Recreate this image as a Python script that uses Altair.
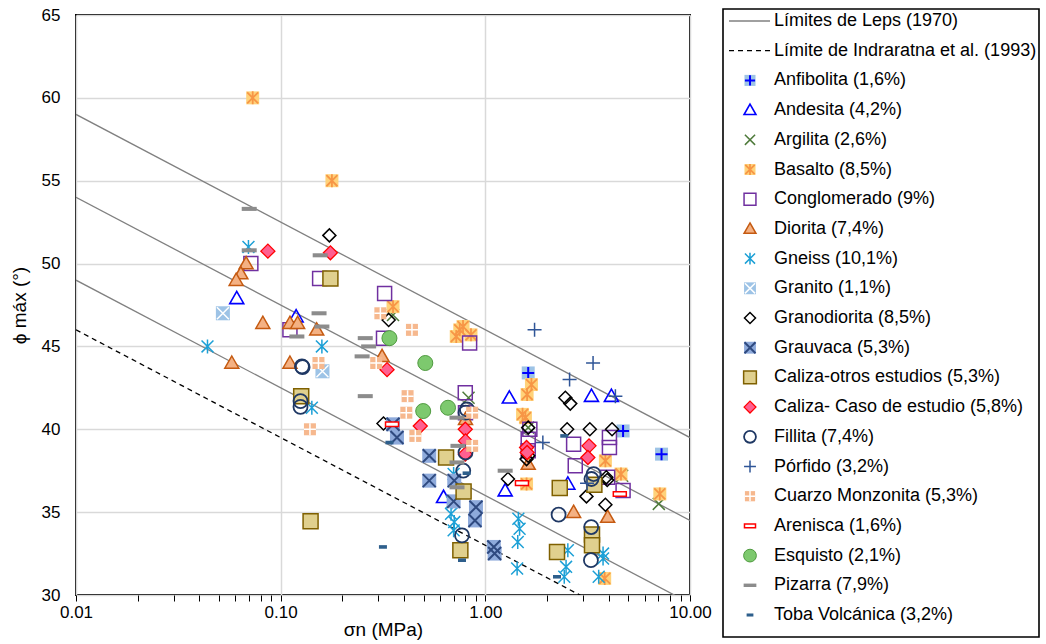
import altair as alt
import pandas as pd

# ---------------- reference lines (end values) ----------------
line_x = [0.01, 10.0]
leps_upper = [59.0, 39.5]
leps_middle = [54.0, 34.5]
leps_lower = [49.0, 29.5]
indraratna = [46.0, 26.5]

# ---------------- data (sigma_n in MPa, phi max in degrees) ----------------
anf_x = [1.62, 4.71, 7.26]
anf_y = [43.4, 39.9, 38.5]
and_x = [0.061, 0.119, 1.31, 3.30, 4.13, 0.625, 1.25, 2.53]
and_y = [47.9, 46.8, 41.9, 42.0, 42.0, 35.9, 36.3, 36.7]
arg_x = [7.04, 0.354, 0.828, 1.62, 4.66]
arg_y = [35.5, 46.9, 41.9, 40.1, 37.2]
bas_x = [0.073, 0.178, 0.354, 0.778, 0.721, 0.851, 1.68, 1.60, 1.57, 1.52, 3.86, 4.60, 1.59, 7.12, 3.83, 0.75]
bas_y = [60.0, 55.0, 47.4, 46.2, 45.6, 45.7, 42.7, 42.1, 40.7, 40.9, 38.1, 37.3, 36.7, 36.1, 31.0, 46.0]
con_x = [0.0715, 0.155, 0.111, 0.322, 0.318, 0.838, 0.798, 0.80, 1.62, 1.62, 2.70, 2.75, 4.04, 4.04, 3.96, 4.71, 1.65]
con_y = [50.0, 49.1, 46.0, 48.2, 45.5, 45.2, 42.2, 41.0, 39.4, 38.7, 39.1, 37.8, 39.5, 38.9, 37.1, 36.3, 40.0]
dio_x = [0.0678, 0.0639, 0.0606, 0.0818, 0.111, 0.121, 0.150, 0.0577, 0.111, 0.313, 0.80, 1.62, 2.70, 3.96]
dio_y = [50.0, 49.4, 49.0, 46.4, 46.4, 46.4, 46.0, 44.0, 44.0, 44.4, 40.6, 37.9, 35.0, 34.7]
gne_x = [0.0696, 0.0439, 0.159, 0.142, 0.700, 0.687, 0.705, 0.700, 0.68, 1.45, 1.47, 1.44, 1.43, 2.53, 2.48, 2.43, 3.76, 3.76, 3.58]
gne_y = [51.0, 45.0, 45.0, 41.3, 37.3, 35.6, 34.4, 33.9, 34.9, 34.6, 34.0, 33.2, 31.6, 32.7, 31.7, 31.1, 32.5, 32.2, 31.1]
gra_x = [0.0522, 0.160]
gra_y = [47.0, 43.5]
grd_x = [0.173, 0.337, 0.318, 2.46, 2.60, 1.62, 2.51, 3.24, 4.16, 1.59, 1.29, 3.12, 3.94, 3.86, 1.62, 3.90]
grd_y = [51.7, 46.6, 40.35, 41.9, 41.55, 40.1, 40.0, 40.0, 40.0, 38.2, 37.0, 35.95, 36.94, 35.45, 38.4, 37.1]
grv_x = [0.354, 0.370, 0.532, 0.532, 0.705, 0.70, 0.900, 0.89, 1.10, 1.11]
grv_y = [40.3, 39.5, 38.4, 36.9, 36.9, 35.65, 35.3, 34.5, 32.9, 32.5]
cal_x = [0.175, 0.126, 0.140, 0.643, 0.783, 0.755, 2.31, 2.24, 3.41, 3.32, 3.32]
cal_y = [49.1, 42.0, 34.45, 38.3, 36.25, 32.7, 36.45, 32.6, 36.65, 33.65, 33.0]
cce_x = [0.0866, 0.175, 0.331, 0.481, 0.798, 0.80, 0.798, 1.59, 1.60, 3.21, 3.17]
cce_y = [50.75, 50.65, 43.6, 40.2, 40.0, 39.3, 38.5, 38.9, 38.6, 39.0, 38.3]
fil_x = [0.127, 0.128, 0.125, 0.125, 0.813, 0.80, 0.80, 0.78, 0.769, 3.38, 3.30, 2.28, 3.29, 3.28]
fil_y = [43.8, 43.75, 41.7, 41.35, 41.2, 41.0, 38.6, 37.5, 33.6, 37.3, 37.0, 34.85, 34.1, 32.1]
por_x = [1.74, 3.36, 2.58, 4.32, 1.91, 3.14]
por_y = [46.0, 44.0, 43.0, 42.0, 39.2, 36.75]
cua_x = [0.153, 0.139, 0.307, 0.438, 0.293, 0.417, 0.411, 0.862, 0.455, 0.862]
cua_y = [44.0, 40.0, 47.0, 46.0, 44.0, 42.0, 41.0, 41.0, 39.6, 39.0]
are_x = [0.350, 1.51, 4.54]
are_y = [40.3, 36.75, 36.1]
esq_x = [0.340, 0.509, 0.497, 0.657]
esq_y = [45.5, 44.0, 41.1, 41.3]
piz_x = [0.0702, 0.0702, 0.156, 0.154, 0.159, 0.120, 0.259, 0.269, 0.250, 0.259, 0.727, 0.735, 0.727, 0.727, 1.25]
piz_y = [53.3, 50.8, 50.5, 47.0, 46.2, 45.6, 45.5, 45.0, 44.4, 42.0, 40.7, 39.0, 38.0, 36.5, 37.5]
tob_x = [0.316, 0.340, 0.81, 0.769, 2.43, 2.24]
tob_y = [32.9, 39.2, 37.35, 32.1, 39.6, 31.1]

line_labels = ["Límites de Leps (1970)", "Límite de Indraratna et al. (1993)"]
series_labels = [
    "Anfibolita (1,6%)", "Andesita (4,2%)", "Argilita (2,6%)", "Basalto (8,5%)",
    "Conglomerado (9%)", "Diorita (7,4%)", "Gneiss (10,1%)", "Granito (1,1%)",
    "Granodiorita (8,5%)", "Grauvaca (5,3%)", "Caliza-otros estudios (5,3%)",
    "Caliza- Caso de estudio (5,8%)", "Fillita (7,4%)", "Pórfido (3,2%)",
    "Cuarzo Monzonita (5,3%)", "Arenisca (1,6%)", "Esquisto (2,1%)",
    "Pizarra (7,9%)", "Toba Volcánica (3,2%)",
]
series_xy = [
    (anf_x, anf_y), (and_x, and_y), (arg_x, arg_y), (bas_x, bas_y),
    (con_x, con_y), (dio_x, dio_y), (gne_x, gne_y), (gra_x, gra_y),
    (grd_x, grd_y), (grv_x, grv_y), (cal_x, cal_y), (cce_x, cce_y),
    (fil_x, fil_y), (por_x, por_y), (cua_x, cua_y), (are_x, are_y),
    (esq_x, esq_y), (piz_x, piz_y), (tob_x, tob_y),
]

x_ticks = [0.01, 0.02, 0.03, 0.04, 0.05, 0.06, 0.07, 0.08, 0.09,
           0.1, 0.2, 0.3, 0.4, 0.5, 0.6, 0.7, 0.8, 0.9,
           1, 2, 3, 4, 5, 6, 7, 8, 9, 10]
y_ticks = [30, 35, 40, 45, 50, 55, 60, 65]

# ---------------- marker styles ----------------
TRI = "M0,-1L1,0.75L-1,0.75Z"
PLUS = "M0,-1L0,1M-1,0L1,0"
XX = "M-1,-1L1,1M-1,1L1,-1"
STAR = "M-0.85,-0.85L0.85,0.85M-0.85,0.85L0.85,-0.85M0,-1L0,1"
BAR = "M-1,-0.27L1,-0.27L1,0.27L-1,0.27Z"
ARE = "M-1,-0.35L1,-0.35L1,0.35L-1,0.35Z"
TOBA = "M-1,-0.45L1,-0.45L1,0.45L-1,0.45Z"

styles = [
    [dict(shape="square", size=169, fill="#9dc3e6"), dict(shape=PLUS, size=144, stroke="#0000ff", sw=2)],
    [dict(shape=TRI, size=196, stroke="#0000ff", sw=1.6)],
    [dict(shape=XX, size=144, stroke="#4e7a3a", sw=1.5)],
    [dict(shape="square", size=169, fill="#ffd27a"), dict(shape=STAR, size=169, stroke="#f79646", sw=1.8)],
    [dict(shape="square", size=196, stroke="#7030a0", sw=1.5)],
    [dict(shape=TRI, size=196, fill="#f4b183", stroke="#c55a11", sw=1.5)],
    [dict(shape=STAR, size=196, stroke="#1ca0d6", sw=1.5)],
    [dict(shape="square", size=196, fill="#9dc3e6"), dict(shape=XX, size=144, stroke="#ffffff", sw=1.5)],
    [dict(shape="diamond", size=169, stroke="#000000", sw=1.5)],
    [dict(shape="square", size=196, fill="#8eaadb"), dict(shape=XX, size=169, stroke="#2f4a80", sw=2)],
    [dict(shape="square", size=225, fill="#e0d08e", stroke="#7f6000", sw=1.5)],
    [dict(shape="diamond", size=196, fill="#ff6090", stroke="#ff0000", sw=1.3)],
    [dict(shape="circle", size=196, stroke="#1f3864", sw=1.8)],
    [dict(shape=PLUS, size=196, stroke="#2f5597", sw=1.5)],
    [dict(shape="square", size=144, fill="#f6b88e"), dict(shape=PLUS, size=144, stroke="#ffffff", sw=1.5)],
    [dict(shape=ARE, size=169, fill="#ffffff", stroke="#ff0000", sw=1.5)],
    [dict(shape="circle", size=225, fill="#7dc96e", stroke="#4f9a3f", sw=1)],
    [dict(shape=BAR, size=225, fill="#8c8c8c")],
    [dict(shape=TOBA, size=64, fill="#2e5f8c")],
]

FONT = "Liberation Sans"


def point_layers(data, specs, x_enc, y_enc, scale=1.0):
    out = []
    for s in specs:
        kw = dict(shape=s["shape"], size=s["size"] * scale, opacity=1)
        if "fill" in s:
            kw["filled"] = True
            kw["fill"] = s["fill"]
        else:
            kw["filled"] = False
        if "stroke" in s:
            kw["stroke"] = s["stroke"]
            kw["strokeWidth"] = s.get("sw", 1.5)
        else:
            kw["strokeWidth"] = 0
        out.append(alt.Chart(data).mark_point(**kw).encode(x=x_enc, y=y_enc))
    return out


# ---------------- main plot ----------------
decade_test = "indexof([0.01, 0.1, 1, 10], datum.value) >= 0"
x_enc = alt.X(
    "x:Q",
    title="σn (MPa)",
    scale=alt.Scale(type="log", domain=[0.01, 10], nice=False),
    axis=alt.Axis(
        values=x_ticks,
        labelExpr=decade_test + " ? format(datum.value, '.2f') : ''",
        grid=True, gridColor="#d9d9d9", gridWidth=1.5,
        gridOpacity={"condition": {"test": decade_test, "value": 1}, "value": 0},
        ticks=True, tickSize=6, tickColor="black", tickWidth=1,
        domain=False, labelOverlap=False, labelFlush=False,
        labelFont=FONT, labelFontSize=17, labelColor="black", labelPadding=3,
        titleFont=FONT, titleFontSize=19, titleFontWeight="normal", titleColor="black",
        titlePadding=0,
    ),
)
y_enc = alt.Y(
    "y:Q",
    title="ϕ máx (°)",
    scale=alt.Scale(domain=[30, 65], nice=False, zero=False),
    axis=alt.Axis(
        values=y_ticks, grid=True, gridColor="#d9d9d9", gridWidth=1.5,
        ticks=False, domain=False,
        labelFont=FONT, labelFontSize=17, labelColor="black", labelPadding=16,
        titleFont=FONT, titleFontSize=19, titleFontWeight="normal", titleColor="black",
        titlePadding=12,
    ),
)

leps_df = pd.DataFrame({
    "x": line_x * 3,
    "y": leps_upper + leps_middle + leps_lower,
    "line": ["a", "a", "b", "b", "c", "c"],
})
ind_df = pd.DataFrame({"x": line_x, "y": indraratna})

layers = [
    alt.Chart(leps_df).mark_line(color="#808080", strokeWidth=1.3, clip=True).encode(
        x=x_enc, y=y_enc, detail="line:N"),
    alt.Chart(ind_df).mark_line(color="black", strokeWidth=1.3, strokeDash=[5, 4], clip=True).encode(
        x=x_enc, y=y_enc),
]
for (xs, ys), spec in zip(series_xy, styles):
    df = pd.DataFrame({"x": xs, "y": ys})
    layers += point_layers(df, spec, x_enc, y_enc)

main = alt.layer(*layers).properties(width=614, height=580)

# ---------------- legend panel ----------------
all_labels = line_labels + series_labels
ly = alt.Y("label:N", axis=None,
           scale=alt.Scale(type="point", domain=all_labels, range=[6, 600], padding=0))

leg_layers = [
    alt.Chart(pd.DataFrame({"a": [0]})).mark_rect(
        fill="white", fillOpacity=0, stroke="black", strokeWidth=1.6
    ).encode(x=alt.value(0), x2=alt.value(316), y=alt.value(-6), y2=alt.value(622)),
    alt.Chart(pd.DataFrame({"label": [line_labels[0]]})).mark_rule(
        color="#808080", strokeWidth=1.3).encode(x=alt.value(6), x2=alt.value(47), y=ly),
    alt.Chart(pd.DataFrame({"label": [line_labels[1]]})).mark_rule(
        color="black", strokeWidth=1.3, strokeDash=[5, 4]).encode(x=alt.value(6), x2=alt.value(47), y=ly),
]
for lab, spec in zip(series_labels, styles):
    leg_layers += point_layers(pd.DataFrame({"label": [lab]}), spec, alt.value(27), ly, scale=0.72)
leg_layers.append(
    alt.Chart(pd.DataFrame({"label": all_labels})).mark_text(
        align="left", baseline="middle", font=FONT, fontSize=18, color="black"
    ).encode(x=alt.value(51), y=ly, text="label:N")
)
legend = alt.layer(*leg_layers).properties(
    width=316, height=616, view=alt.ViewBackground(strokeOpacity=0))

chart = alt.hconcat(main, legend, spacing=33, bounds="flush").properties(
    padding={"left": 9, "top": 5, "right": 2, "bottom": 2},
    background="white",
).configure_view(stroke="black", strokeWidth=2)

chart.save("out.html", embed_options={"renderer": "svg", "actions": False})
